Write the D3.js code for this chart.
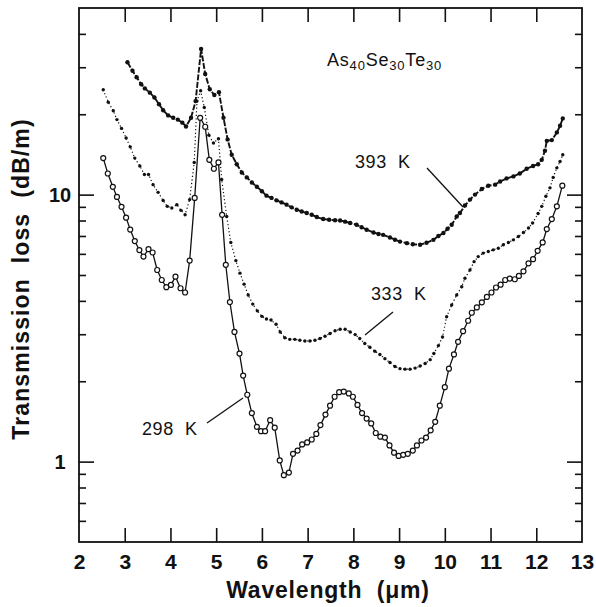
<!DOCTYPE html>
<html>
<head>
<meta charset="utf-8">
<script src="https://cdn.jsdelivr.net/npm/d3@7"></script>
<style>
  body { margin: 0; background: #fff; }
  text { font-family: "Liberation Sans", Arial, Helvetica, sans-serif; fill: #111; }
</style>
</head>
<body>
<svg id="chart" width="596" height="607"></svg>
<script>
// values (wavelength in um, loss in dB/m)
const wl298 = [2.53,2.63,2.74,2.83,2.93,3.03,3.12,3.22,3.32,3.41,3.52,3.61,3.71,3.81,3.91,4.01,4.11,4.22,4.32,4.42,
  4.53,4.65,4.76,4.85,4.95,5.05,5.13,5.21,5.30,5.40,5.51,5.59,5.68,5.78,5.89,5.98,6.07,6.18,6.28,6.39,
  6.48,6.59,6.68,6.78,6.88,6.99,7.09,7.19,7.28,7.39,7.49,7.59,7.69,7.79,7.90,7.99,8.09,8.19,8.29,8.39,
  8.49,8.59,8.69,8.79,8.89,8.99,9.09,9.19,9.30,9.39,9.49,9.59,9.69,9.79,9.89,10.00,10.09,10.20,10.29,10.40,
  10.51,10.59,10.70,10.81,10.92,11.02,11.12,11.22,11.32,11.42,11.53,11.62,11.72,11.83,11.93,12.03,12.14,12.23,12.34,12.45,
  12.57];
const loss298 = [13.7,12.0,10.7,9.8,9.0,8.2,7.4,6.7,6.2,5.86,6.25,6.07,5.22,4.79,4.50,4.59,4.93,4.46,4.30,5.66,
  9.72,19.4,17.96,13.5,12.5,13.2,8.4,5.46,3.96,3.06,2.54,2.10,1.78,1.52,1.35,1.30,1.30,1.43,1.34,1.01,
  0.89,0.91,1.07,1.10,1.16,1.18,1.21,1.27,1.37,1.50,1.62,1.75,1.82,1.83,1.80,1.75,1.63,1.52,1.45,1.39,
  1.28,1.24,1.23,1.15,1.08,1.05,1.06,1.07,1.10,1.15,1.20,1.23,1.31,1.41,1.62,1.90,2.23,2.52,2.81,3.08,
  3.37,3.61,3.78,3.95,4.14,4.30,4.49,4.60,4.79,4.85,4.82,4.96,5.16,5.53,5.73,6.16,6.62,7.43,8.10,9.04,
  10.8];

const wl333 = [2.53,2.64,2.75,2.83,2.93,3.03,3.12,3.22,3.33,3.43,3.52,3.62,3.73,3.84,3.93,4.03,4.14,4.23,4.32,4.42,
  4.52,4.58,4.66,4.74,4.84,4.94,5.05,5.12,5.23,5.32,5.43,5.52,5.61,5.70,5.80,5.90,6.00,6.10,6.20,6.31,
  6.40,6.50,6.61,6.72,6.83,6.94,7.05,7.16,7.27,7.38,7.49,7.60,7.71,7.82,7.93,8.04,8.14,8.25,8.36,8.47,
  8.58,8.69,8.80,8.91,9.02,9.13,9.24,9.35,9.46,9.57,9.68,9.76,9.86,9.95,10.04,10.15,10.26,10.37,10.44,10.55,
  10.64,10.73,10.84,10.95,11.06,11.17,11.28,11.39,11.50,11.61,11.72,11.83,11.92,12.04,12.12,12.21,12.30,12.37,12.45,12.52,
  12.58];
const loss333 = [24.7,22.2,20.6,19.1,17.7,16.3,15.1,13.7,12.8,11.9,11.9,10.9,10.2,9.5,9.04,8.91,9.17,8.73,8.41,9.58,
  13.2,22.4,24.5,21.2,16.7,15.6,16.2,11.4,8.28,6.62,5.66,5.08,4.62,4.21,3.89,3.67,3.50,3.42,3.39,3.27,
  3.06,2.91,2.87,2.87,2.85,2.83,2.83,2.85,2.89,2.95,3.02,3.09,3.13,3.13,3.06,2.99,2.89,2.77,2.68,2.59,
  2.52,2.43,2.35,2.27,2.23,2.22,2.22,2.24,2.28,2.33,2.41,2.54,2.72,2.93,3.49,3.86,4.21,4.52,4.86,5.22,
  5.61,5.86,6.04,6.12,6.21,6.30,6.49,6.62,6.77,6.97,7.21,7.50,7.83,8.50,9.04,9.86,10.6,11.6,12.6,13.3,
  14.1];

const wl393 = [3.06,3.17,3.26,3.36,3.44,3.55,3.65,3.75,3.84,3.95,4.06,4.16,4.26,4.34,4.45,4.55,4.67,4.76,4.86,4.96,
  5.06,5.16,5.25,5.34,5.45,5.56,5.67,5.78,5.89,6.00,6.10,6.21,6.32,6.43,6.54,6.65,6.76,6.87,6.98,7.09,
  7.20,7.34,7.47,7.60,7.71,7.82,7.93,8.07,8.18,8.29,8.44,8.55,8.65,8.80,8.91,9.02,9.17,9.30,9.46,9.60,
  9.75,9.86,9.97,10.06,10.15,10.26,10.33,10.44,10.55,10.66,10.81,10.95,11.10,11.21,11.35,11.50,11.64,11.79,11.93,12.04,
  12.12,12.19,12.23,12.34,12.45,12.52,12.58];
const loss393 = [31.3,29.1,27.5,25.9,25.0,24.1,23.1,21.8,20.7,19.8,19.4,19.1,18.6,18.0,19.4,22.4,35.1,28.3,24.8,23.6,
  24.2,19.4,16.1,14.1,13.0,12.1,11.6,11.1,10.7,10.3,9.91,9.72,9.52,9.35,9.17,8.96,8.78,8.65,8.53,8.41,
  8.24,8.10,8.05,8.02,8.00,7.92,7.83,7.71,7.55,7.39,7.21,7.12,7.07,6.91,6.78,6.67,6.58,6.52,6.49,6.60,
  6.77,7.00,7.18,7.45,7.71,8.28,8.53,9.10,9.58,10.0,10.5,10.8,10.9,11.2,11.5,11.7,12.0,12.5,12.8,13.0,
  13.5,14.6,15.9,16.0,17.1,18.1,19.3];

const xTicks = [2,3,4,5,6,7,8,9,10,11,12,13];
const yMajor = [1, 10];
const yMinor = [0.6,0.7,0.8,0.9,2,3,4,5,6,7,8,9,20,30,40];

const svg = d3.select("#chart");
const plotLeft = 79, plotRight = 582, plotTop = 8, plotBottom = 542;

const x = d3.scaleLinear().domain([2, 13]).range([plotLeft, plotRight]);
const y = d3.scaleLog().domain([0.5, 50]).range([plotBottom, plotTop]);

const line = d3.line().x(d => x(d[0])).y(d => y(d[1]));

// curves
const s298 = d3.zip(wl298, loss298);
const s333 = d3.zip(wl333, loss333);
const s393 = d3.zip(wl393, loss393);

svg.append("path").datum(s393)
  .attr("d", line).attr("fill", "none")
  .attr("stroke", "#111").attr("stroke-width", 1.9)
  .attr("stroke-dasharray", "6,1.6");
svg.append("g").selectAll("circle").data(s393).enter().append("circle")
  .attr("cx", d => x(d[0])).attr("cy", d => y(d[1])).attr("r", 2.2)
  .attr("fill", "#111");

svg.append("path").datum(s333)
  .attr("d", line).attr("fill", "none")
  .attr("stroke", "#111").attr("stroke-width", 1.2)
  .attr("stroke-dasharray", "1.2,2.4");
svg.append("g").selectAll("circle").data(s333).enter().append("circle")
  .attr("cx", d => x(d[0])).attr("cy", d => y(d[1])).attr("r", 1.7)
  .attr("fill", "#111");

svg.append("path").datum(s298)
  .attr("d", line).attr("fill", "none")
  .attr("stroke", "#111").attr("stroke-width", 1.3);
svg.append("g").selectAll("circle").data(s298).enter().append("circle")
  .attr("cx", d => x(d[0])).attr("cy", d => y(d[1])).attr("r", 2.5)
  .attr("fill", "#fff").attr("stroke", "#111").attr("stroke-width", 1.2);

// axes, ticks pointing inward on all four sides
function styleTicks(g) {
  g.select(".domain").remove();
  g.selectAll(".tick line").attr("stroke", "#111").attr("stroke-width", 1.6);
}

svg.append("g")
  .attr("transform", `translate(0,${plotBottom})`)
  .call(d3.axisBottom(x).tickValues(xTicks.slice(1, -1)).tickSize(-14).tickFormat(""))
  .call(styleTicks);
svg.append("g")
  .attr("transform", `translate(0,${plotBottom})`)
  .call(d3.axisBottom(x).tickValues(xTicks).tickSize(0).tickFormat(d3.format("d")))
  .call(g => g.select(".domain").remove())
  .call(g => g.selectAll("text")
    .attr("y", 27).attr("dy", 0)
    .style("font-size", "21px").style("font-weight", "bold").style("fill", "#111"));

svg.append("g")
  .attr("transform", `translate(0,${plotTop})`)
  .call(d3.axisTop(x).tickValues(xTicks.slice(1, -1)).tickSize(-14).tickFormat(""))
  .call(styleTicks);

svg.append("g")
  .attr("transform", `translate(${plotLeft},0)`)
  .call(d3.axisLeft(y).tickValues(yMajor).tickSize(-15).tickFormat(d3.format("d")))
  .call(styleTicks)
  .call(g => g.selectAll("text")
    .attr("x", -19).attr("dy", "0.36em")
    .attr("text-anchor", "middle")
    .style("font-size", "20px").style("font-weight", "bold").style("fill", "#111"));
svg.append("g")
  .attr("transform", `translate(${plotLeft},0)`)
  .call(d3.axisLeft(y).tickValues(yMinor).tickSize(-7).tickFormat(""))
  .call(styleTicks);

svg.append("g")
  .attr("transform", `translate(${plotRight},0)`)
  .call(d3.axisRight(y).tickValues(yMajor).tickSize(-15).tickFormat(""))
  .call(styleTicks);
svg.append("g")
  .attr("transform", `translate(${plotRight},0)`)
  .call(d3.axisRight(y).tickValues(yMinor).tickSize(-7).tickFormat(""))
  .call(styleTicks);

svg.append("rect")
  .attr("x", plotLeft).attr("y", plotTop)
  .attr("width", plotRight - plotLeft).attr("height", plotBottom - plotTop)
  .attr("fill", "none").attr("stroke", "#111").attr("stroke-width", 1.8);

// axis titles
svg.append("text")
  .attr("x", 328).attr("y", 598)
  .attr("text-anchor", "middle")
  .style("font-size", "23px").style("font-weight", "bold")
  .style("letter-spacing", "0.8px")
  .style("white-space", "pre")
  .text("Wavelength  (\u03bcm)");

svg.append("text")
  .attr("transform", "translate(29,279) rotate(-90)")
  .attr("text-anchor", "middle")
  .style("font-size", "23px").style("font-weight", "bold")
  .style("letter-spacing", "1.1px")
  .style("white-space", "pre")
  .text("Transmission  loss  (dB/m)");

// composition label
const comp = svg.append("text").attr("x", 327).attr("y", 66)
  .style("font-size", "18px").style("letter-spacing", "0.8px");
comp.append("tspan").text("As");
comp.append("tspan").attr("dy", 4).style("font-size", "13px").text("40");
comp.append("tspan").attr("dy", -4).text("Se");
comp.append("tspan").attr("dy", 4).style("font-size", "13px").text("30");
comp.append("tspan").attr("dy", -4).text("Te");
comp.append("tspan").attr("dy", 4).style("font-size", "13px").text("30");

// curve labels with leader lines
const labels = [
  { text: "393  K", tx: 355, ty: 168, x1: 427, y1: 168, x2: 463, y2: 207 },
  { text: "333  K", tx: 371, ty: 300, x1: 393, y1: 312, x2: 365, y2: 335 },
  { text: "298  K", tx: 142, ty: 435, x1: 207, y1: 423, x2: 243, y2: 398 }
];
labels.forEach(d => {
  svg.append("text")
    .attr("x", d.tx).attr("y", d.ty)
    .style("font-size", "18px").style("letter-spacing", "0.6px")
    .style("white-space", "pre")
    .text(d.text);
  svg.append("line")
    .attr("x1", d.x1).attr("y1", d.y1).attr("x2", d.x2).attr("y2", d.y2)
    .attr("stroke", "#111").attr("stroke-width", 1.3);
});
</script>
</body>
</html>
